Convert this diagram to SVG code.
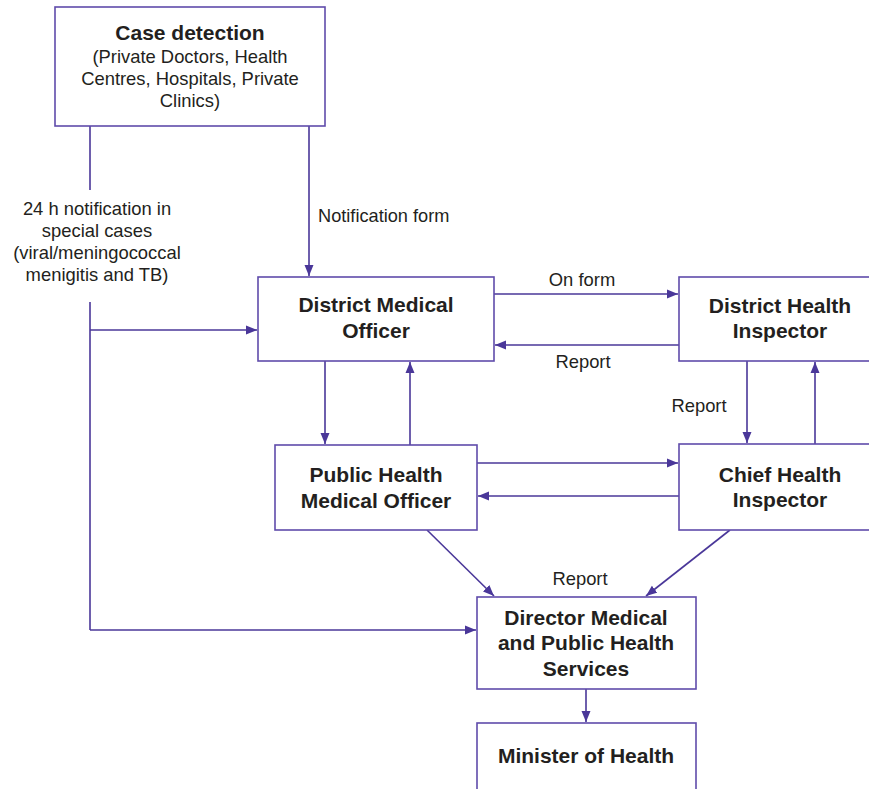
<svg xmlns="http://www.w3.org/2000/svg" width="869" height="789" viewBox="0 0 869 789">
<defs>
<marker id="ah" markerUnits="userSpaceOnUse" markerWidth="12" markerHeight="10" refX="11" refY="5" orient="auto">
<path d="M0,0.5 L11,5 L0,9.5 Z" fill="#4a3799"/>
</marker>
<style>
.box{fill:#fff;stroke:#5f4bab;stroke-width:1.6}
.ln{fill:none;stroke:#4a3799;stroke-width:1.6}
.arr{fill:none;stroke:#4a3799;stroke-width:1.6;marker-end:url(#ah)}
.b{font-family:"Liberation Sans",Arial,sans-serif;font-weight:bold;font-size:21px;fill:#231f20;text-anchor:middle}
.n{font-family:"Liberation Sans",Arial,sans-serif;font-size:18.4px;fill:#231f20;text-anchor:middle}
.nl{font-family:"Liberation Sans",Arial,sans-serif;font-size:18.2px;fill:#231f20;text-anchor:start}
</style>
</defs>
<rect width="869" height="789" fill="#fff"/>

<g id="connectors">
<line class="ln" x1="90" y1="126" x2="90" y2="190"/>
<line class="ln" x1="90" y1="302" x2="90" y2="630"/>
<line class="arr" x1="90" y1="630" x2="476" y2="630"/>
<line class="arr" x1="90" y1="330" x2="257" y2="330"/>
<line class="arr" x1="309" y1="126" x2="309" y2="276"/>
<line class="arr" x1="494" y1="294" x2="678" y2="294"/>
<line class="arr" x1="679" y1="345" x2="495" y2="345"/>
<line class="arr" x1="747" y1="361" x2="747" y2="443"/>
<line class="arr" x1="815" y1="444" x2="815" y2="362"/>
<line class="arr" x1="325" y1="361" x2="325" y2="444"/>
<line class="arr" x1="410" y1="445" x2="410" y2="362"/>
<line class="arr" x1="477" y1="463" x2="678" y2="463"/>
<line class="arr" x1="679" y1="496" x2="478" y2="496"/>
<line class="arr" x1="427" y1="530" x2="494" y2="596"/>
<line class="arr" x1="730" y1="530" x2="646" y2="596"/>
<line class="arr" x1="586" y1="689" x2="586" y2="722"/>
<text class="n" x="97" y="215">24 h notification in</text>
<text class="n" x="97" y="237">special cases</text>
<text class="n" x="97" y="259">(viral/meningococcal</text>
<text class="n" x="97" y="281">menigitis and TB)</text>
<text class="nl" x="318" y="222">Notification form</text>
<text class="n" x="582" y="286">On form</text>
<text class="n" x="583" y="368">Report</text>
<text class="n" x="699" y="412">Report</text>
<text class="n" x="580" y="585">Report</text>
</g>

<g id="case-detection">
<rect class="box" x="55" y="7" width="270" height="119"/>
<text class="b" x="190" y="40">Case detection</text>
<text class="n" x="190" y="63">(Private Doctors, Health</text>
<text class="n" x="190" y="85">Centres, Hospitals, Private</text>
<text class="n" x="190" y="107">Clinics)</text>
</g>

<g id="district-medical-officer">
<rect class="box" x="258" y="277" width="236" height="84"/>
<text class="b" x="376" y="312">District Medical</text>
<text class="b" x="376" y="338">Officer</text>
</g>

<g id="district-health-inspector">
<rect class="box" x="679" y="277" width="200" height="84"/>
<text class="b" x="780" y="313">District Health</text>
<text class="b" x="780" y="338">Inspector</text>
</g>

<g id="public-health-medical-officer">
<rect class="box" x="275" y="445" width="202" height="85"/>
<text class="b" x="376" y="482">Public Health</text>
<text class="b" x="376" y="508">Medical Officer</text>
</g>

<g id="chief-health-inspector">
<rect class="box" x="679" y="444" width="200" height="86"/>
<text class="b" x="780" y="482">Chief Health</text>
<text class="b" x="780" y="507">Inspector</text>
</g>

<g id="director">
<rect class="box" x="477" y="597" width="219" height="92"/>
<text class="b" x="586" y="625">Director Medical</text>
<text class="b" x="586" y="650">and Public Health</text>
<text class="b" x="586" y="676">Services</text>
</g>

<g id="minister">
<rect class="box" x="477" y="723" width="219" height="80"/>
<text class="b" x="586" y="763">Minister of Health</text>
</g>
</svg>
